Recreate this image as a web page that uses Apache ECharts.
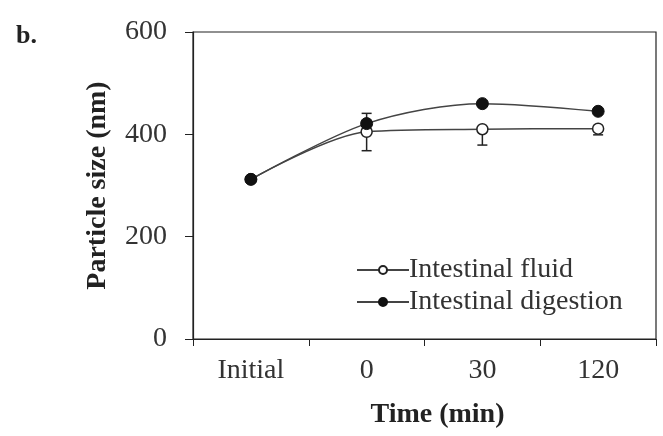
<!DOCTYPE html>
<html><head><meta charset="utf-8">
<script src="https://cdn.jsdelivr.net/npm/echarts@6/dist/echarts.min.js"></script>
<style>html,body{margin:0;padding:0;background:#fff}#c{width:663px;height:436px}</style>
</head><body><div id="c"></div>
<script>
const categories = ['Initial', '0', '30', '120'];
const fluid = [312, 405, 410, 411];
const fluidErr = [0, 37, 31, 12];      // drawn downward
const digestion = [312, 421, 460, 445];
const digestionErr = [0, 20, 4, 4];    // drawn upward
const yTicks = [0, 200, 400, 600];

const serif = '"Liberation Serif", "DejaVu Serif", serif';
const chart = echarts.init(document.getElementById('c'), null, {renderer: 'canvas'});

function errData(vals, errs, dir) {
  return vals.map((v, i) => dir < 0 ? [i, v - errs[i], v] : [i, v, v + errs[i]]);
}
function makeRender(dir) {
  return function (params, api) {
    const lo = api.coord([api.value(0), api.value(1)]);
    const hi = api.coord([api.value(0), api.value(2)]);
    const end = dir < 0 ? lo : hi;
    const w = 5;
    const st = {stroke: '#222', lineWidth: 1.5};
    return {type: 'group', children: [
      {type: 'line', shape: {x1: lo[0], y1: lo[1], x2: hi[0], y2: hi[1]}, style: st},
      {type: 'line', shape: {x1: end[0]-w, y1: end[1], x2: end[0]+w, y2: end[1]}, style: st}
    ]};
  };
}

chart.setOption({
  animation: false,
  backgroundColor: '#fff',
  graphic: [{type: 'text', left: 16, top: 23, style: {text: 'b.', font: 'bold 26px ' + serif, fill: '#222'}}],
  grid: {left: 193, right: 7, top: 32, bottom: 97, show: true, borderColor: '#222', borderWidth: 1.2},
  legend: {
    left: 356, top: 256, orient: 'vertical', itemGap: 4, itemWidth: 52, itemHeight: 10, padding: 0,
    textStyle: {fontFamily: serif, fontSize: 28, color: '#333', padding: [0,0,0,-5]},
    data: ['Intestinal fluid', 'Intestinal digestion']
  },
  xAxis: {
    type: 'category', data: categories, boundaryGap: true,
    axisLine: {lineStyle: {color: '#222', width: 1.2}},
    axisTick: {show: true, length: 7, inside: false, lineStyle: {color: '#222'}},
    axisLabel: {fontFamily: serif, fontSize: 28, color: '#333', margin: 18},
    name: 'Time (min)', nameLocation: 'middle', nameGap: 62,
    nameTextStyle: {fontFamily: serif, fontSize: 28, fontWeight: 'bold', color: '#222', padding: [0,0,0,26]}
  },
  yAxis: {
    type: 'value', min: 0, max: 600, interval: 200,
    axisLine: {show: true, lineStyle: {color: '#222', width: 1.2}},
    axisTick: {show: true, length: 8, lineStyle: {color: '#222'}},
    splitLine: {show: false},
    axisLabel: {fontFamily: serif, fontSize: 28, color: '#333', margin: 26,
      formatter: v => yTicks.includes(v) ? String(v) : ''},
    name: 'Particle size (nm)', nameLocation: 'middle', nameGap: 81,
    nameTextStyle: {fontFamily: serif, fontSize: 28, fontWeight: 'bold', color: '#222'}
  },
  series: [
    {type: 'custom', name: 'errF', renderItem: makeRender(-1), data: errData(fluid, fluidErr, -1), z: 1, silent: true},
    {type: 'custom', name: 'errD', renderItem: makeRender(1), data: errData(digestion, digestionErr, 1), z: 1, silent: true},
    {type: 'line', name: 'Intestinal fluid', data: fluid, smooth: 0.3, z: 3,
      symbol: 'circle', symbolSize: 11,
      lineStyle: {color: '#444', width: 1.5},
      itemStyle: {color: '#fff', borderColor: '#222', borderWidth: 1.5}},
    {type: 'line', name: 'Intestinal digestion', data: digestion, smooth: 0.3, z: 4,
      symbol: 'circle', symbolSize: 12,
      lineStyle: {color: '#444', width: 1.5},
      itemStyle: {color: '#111', borderColor: '#111', borderWidth: 1}}
  ]
});
</script></body></html>
